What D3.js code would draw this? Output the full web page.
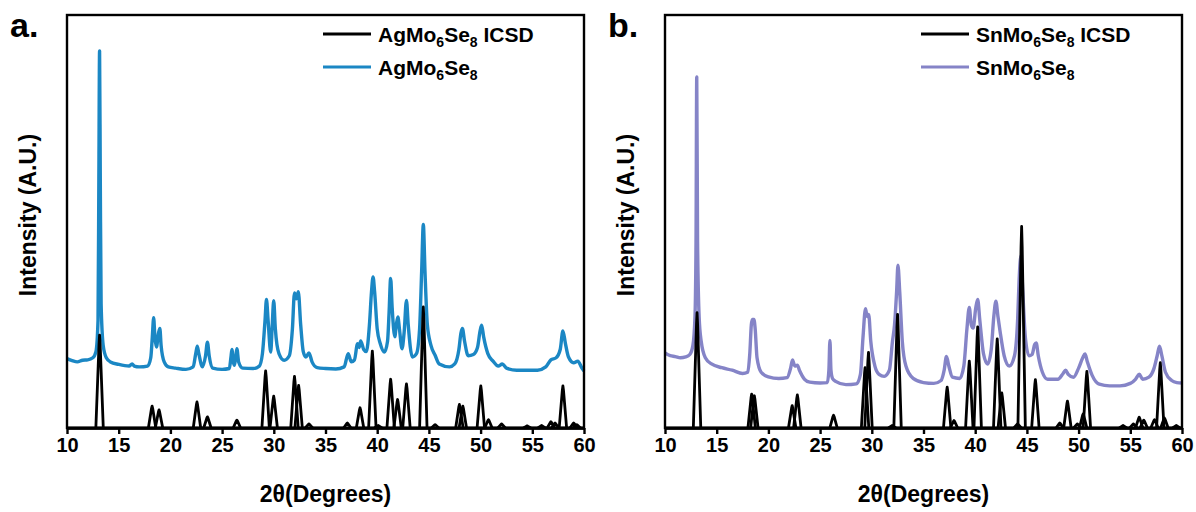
<!DOCTYPE html>
<html>
<head>
<meta charset="utf-8">
<script src="https://cdn.jsdelivr.net/npm/d3@7"></script>
<style>
  body { margin: 0; background: #fff; }
  svg { display: block; font-family: "Liberation Sans", Arial, sans-serif; font-weight: bold; }
</style>
</head>
<body>
<svg id="chart" width="1196" height="512"></svg>
<script>
// x ticks shared by both panels
var xTicks = [10, 15, 20, 25, 30, 35, 40, 45, 50, 55, 60];

// ICSD reference patterns, [2theta, intensity %] peak list
var agIcsd = [[13.15,22.5],[18.23,5.3],[18.9,4.4],[22.57,6.3],[23.58,2.7],[26.43,1.9],[29.21,13.8],[29.99,7.7],
  [32.0,12.5],[32.4,10.3],[33.4,1.0],[37.11,1.2],[38.34,4.9],[39.53,18.6],[40.1,0.6],[41.3,11.8],[41.97,6.9],
  [42.83,10.7],[44.46,29.3],[45.6,0.8],[47.95,5.7],[48.28,5.3],[50.02,10.2],[50.76,2.0],[52.03,1.0],[54.5,0.5],
  [55.9,0.6],[56.8,1.5],[57.2,1.2],[57.96,10.2],[59.0,1.2],[59.3,0.8]];

var snIcsd = [[13.1,27.9],[18.38,8.2],[18.64,7.8],[22.3,5.4],[22.8,8.0],[26.3,3.1],[29.35,14.6],[29.68,18.3],
  [31.97,0.6],[32.49,27.5],[37.29,9.9],[37.95,1.8],[39.43,16.2],[40.24,24.5],[42.13,21.6],[42.57,8.5],[44.1,1.0],
  [44.49,48.8],[45.82,11.7],[48.18,1.2],[48.92,6.5],[49.88,1.0],[50.44,3.4],[50.8,13.7],[54.3,0.6],[55.3,1.0],
  [55.86,2.6],[56.3,1.9],[57.34,2.0],[57.9,15.8],[58.3,2.4],[59.45,0.6]];

// measured patterns, traced [2theta, intensity %]
var agMeasured = [[10.0,16.8],[10.5,16.3],[11.0,16.0],[11.5,16.4],[12.0,16.5],[12.5,17.0],[12.8,18.5],[13.0,26],
  [13.08,60],[13.15,91.3],[13.22,60],[13.3,30],[13.5,20],[13.8,17.0],[14.2,16.0],[15,15.4],[16,15.0],[16.3,15.5],
  [16.5,15.0],[17,14.8],[17.8,15.0],[18.1,17],[18.25,22],[18.38,26.7],[18.5,22],[18.65,19.6],[18.85,23],[18.98,24.1],
  [19.1,20],[19.4,16],[19.8,14.8],[20.5,14.5],[21.5,14.2],[22.2,14.8],[22.45,18],[22.6,19.8],[22.75,18],[23.1,14.8],
  [23.4,17.5],[23.58,20.8],[23.75,17.5],[24.1,14.5],[25,14.2],[25.7,14.4],[25.85,17],[25.95,19.0],[26.08,16],
  [26.2,15.2],[26.33,17.5],[26.43,19.2],[26.6,16],[27,14.5],[28,14.4],[28.6,15],[28.9,18],[29.15,26],[29.29,31.1],
  [29.45,26],[29.7,18.4],[29.85,25],[29.99,30.8],[30.15,24],[30.5,18],[31,16.4],[31.5,17.5],[31.8,24],[32.0,32.7],
  [32.2,31.3],[32.37,33.0],[32.6,25],[32.85,18.5],[33.1,17.2],[33.4,18.2],[33.7,16],[34.2,14.6],[35,14.4],[36,14.3],
  [36.8,14.8],[37.19,18.0],[37.5,16],[37.8,16.5],[38.1,20.4],[38.25,19.5],[38.4,21.1],[38.7,19],[38.95,18.5],
  [39.25,25],[39.45,33],[39.6,36.6],[39.75,33],[40.0,24],[40.3,20.4],[40.7,18.4],[41.0,21],[41.15,28],[41.3,36.2],
  [41.45,29],[41.7,22.1],[41.85,25],[42.0,26.9],[42.15,24],[42.4,19.2],[42.6,23],[42.83,30.9],[43.0,25],[43.4,17.2],
  [43.8,18],[44.1,24],[44.3,38],[44.46,49.3],[44.62,38],[44.85,25],[45.2,20],[45.6,17.6],[46,15.5],[47,14.8],
  [47.5,15.5],[47.9,19],[48.1,23],[48.24,24.1],[48.45,21],[48.8,17.5],[49.3,17.8],[49.7,19.5],[49.95,23.5],
  [50.1,24.9],[50.3,22],[50.7,18],[51.2,16.2],[51.7,15],[52.1,15.5],[52.5,14.5],[53.5,14.0],[54.5,14.0],[55.5,14.0],
  [56.3,14.8],[56.8,16.5],[57.3,17],[57.7,19],[57.96,23.5],[58.2,20.5],[58.5,17.2],[59.0,15.8],[59.4,16.2],
  [59.8,14.5],[60,13.8]];

var snMeasured = [[10.0,18.2],[10.5,17.5],[11.0,17.3],[11.5,17.0],[12.0,17.2],[12.4,17.8],[12.7,20],[12.9,27],
  [13.0,45],[13.07,85.0],[13.15,45],[13.3,27],[13.5,21],[13.9,17],[14.5,15.5],[15.5,14.6],[16.5,14.0],[17.5,13.2],
  [18.0,13.5],[18.2,18],[18.35,25],[18.45,26.3],[18.6,26.3],[18.72,24],[18.9,17],[19.3,13.5],[20,12.4],[21,12.0],
  [21.8,12.2],[22.15,14.5],[22.33,16.5],[22.55,15],[22.8,15.2],[23.0,14],[23.5,11.8],[24,11.1],[25,10.9],[25.7,11.0],
  [25.85,14],[25.95,21.2],[26.05,14],[26.2,12],[26.5,11.3],[27.5,10.5],[28.5,10.7],[28.9,13],[29.15,22],[29.39,28.9],
  [29.55,27],[29.7,27.5],[29.9,21],[30.3,15],[30.7,13],[31.2,12.5],[31.7,14],[32.0,21.0],[32.2,25],[32.4,33],
  [32.53,39.4],[32.7,33],[32.95,21],[33.3,15],[34,12],[35,11],[36,10.8],[36.7,11.5],[37.0,14],[37.22,17.3],
  [37.45,15],[37.8,12.3],[38.5,12],[38.9,15],[39.2,24],[39.43,29.2],[39.62,25],[39.8,24.2],[40.05,29],[40.24,31.1],
  [40.45,26],[40.8,18],[41.2,15.5],[41.55,19],[41.8,27],[42.0,30.7],[42.2,27],[42.4,23.5],[42.8,17.5],[43.3,15.0],
  [43.8,17.5],[44.1,26],[44.25,36],[44.42,41.7],[44.6,33],[44.85,22],[45.2,17.5],[45.5,17.8],[45.75,20.2],
  [45.9,20.6],[46.1,17.5],[46.5,13.5],[47,11.8],[48,11.8],[48.5,13.2],[48.74,14.0],[49.0,13.0],[49.5,12.3],
  [50,14.5],[50.4,17],[50.62,17.9],[50.85,16],[51.3,12.8],[52,10.6],[53,10.2],[54,10.2],[55,10.8],[55.5,11.8],
  [55.86,13.0],[56.2,11.8],[56.8,12.3],[57.3,14.5],[57.6,17.5],[57.82,19.8],[58.05,17.5],[58.4,13.5],[59,11.5],
  [59.5,11.0],[60,10.9]];

var panels = [
  { tag: 'a.', left: 67, icsd: agIcsd, measured: agMeasured, color: '#1b87c4',
    legend: [['AgMo', '6', 'Se', '8', ' ICSD'], ['AgMo', '6', 'Se', '8', '']] },
  { tag: 'b.', left: 665, icsd: snIcsd, measured: snMeasured, color: '#8584c7',
    legend: [['SnMo', '6', 'Se', '8', ' ICSD'], ['SnMo', '6', 'Se', '8', '']] }
];

var W = 517, TOP = 15, BOTTOM = 428;
var svg = d3.select('#chart');

panels.forEach(function (p) {
  var g = svg.append('g');
  var x = d3.scaleLinear().domain([10, 60]).range([p.left, p.left + W]);
  var y = d3.scaleLinear().domain([0, 100]).range([BOTTOM, TOP]);

  // measured pattern
  var line = d3.line()
    .x(function (d) { return x(d[0]); })
    .y(function (d) { return y(d[1]); })
    .curve(d3.curveMonotoneX);
  g.append('path')
    .attr('d', line(p.measured))
    .attr('fill', 'none')
    .attr('stroke', p.color)
    .attr('stroke-width', 3.4)
    .attr('stroke-linejoin', 'round');

  // ICSD reference: baseline plus one narrow peak per reflection
  var hw = 0.36;
  var peakLine = d3.line()
    .x(function (d) { return x(d[0]); })
    .y(function (d) { return y(d[1]); });
  g.append('path')
    .attr('d', peakLine([[10, 0], [60, 0]]))
    .attr('stroke', '#000').attr('stroke-width', 2.8).attr('fill', 'none');
  g.selectAll('.pk').data(p.icsd).enter().append('path')
    .attr('class', 'pk')
    .attr('d', function (d) { return peakLine([[d[0] - hw, 0], [d[0] - hw * 0.15, d[1] * 0.9], [d[0], d[1]], [d[0] + hw * 0.15, d[1] * 0.9], [d[0] + hw, 0]]); })
    .attr('fill', 'none')
    .attr('stroke', '#000')
    .attr('stroke-width', 2.8)
    .attr('stroke-linejoin', 'round');

  // frame
  g.append('rect')
    .attr('x', p.left).attr('y', TOP)
    .attr('width', W).attr('height', BOTTOM - TOP)
    .attr('fill', 'none').attr('stroke', '#000').attr('stroke-width', 2.4);

  // x axis
  var ax = g.append('g')
    .attr('transform', 'translate(0,' + BOTTOM + ')')
    .call(d3.axisBottom(x).tickValues(xTicks).tickSize(6).tickSizeOuter(0).tickPadding(4));
  ax.select('.domain').attr('stroke-width', 2.4);
  ax.selectAll('.tick line').attr('stroke-width', 2.4);
  ax.selectAll('.tick text')
    .attr('font-family', '"Liberation Sans", Arial, sans-serif')
    .attr('font-weight', 'bold')
    .attr('font-size', 20)
    .attr('fill', '#000');

  // axis titles
  g.append('text')
    .attr('x', p.left + W / 2).attr('y', 502)
    .attr('text-anchor', 'middle').attr('font-size', 23)
    .text('2θ(Degrees)');
  g.append('text')
    .attr('transform', 'translate(' + (p.left - 31) + ',215) rotate(-90)')
    .attr('text-anchor', 'middle').attr('font-size', 23)
    .text('Intensity (A.U.)');

  // panel tag
  g.append('text')
    .attr('x', p.left - 57).attr('y', 37)
    .attr('font-size', 34)
    .text(p.tag);

  // legend
  var lx = p.left + W - 261;
  [['#000', 34], [p.color, 67]].forEach(function (it, i) {
    g.append('line')
      .attr('x1', lx).attr('x2', lx + 48)
      .attr('y1', it[1]).attr('y2', it[1])
      .attr('stroke', it[0]).attr('stroke-width', 2.8);
    var parts = p.legend[i];
    var t = g.append('text')
      .attr('x', lx + 55).attr('y', it[1] + 8)
      .attr('font-size', 21);
    t.append('tspan').text(parts[0]);
    t.append('tspan').attr('font-size', 14).attr('dy', 5).text(parts[1]);
    t.append('tspan').attr('dy', -5).text(parts[2]);
    t.append('tspan').attr('font-size', 14).attr('dy', 5).text(parts[3]);
    if (parts[4]) t.append('tspan').attr('dy', -5).text(parts[4]);
  });
});
</script>
</body>
</html>
